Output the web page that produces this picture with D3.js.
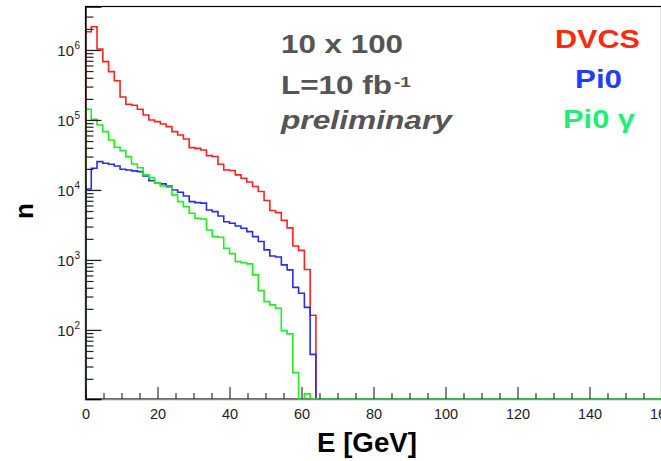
<!DOCTYPE html>
<html>
<head>
<meta charset="utf-8">
<script src="https://cdn.jsdelivr.net/npm/d3@7"></script>
<style>
  html, body { margin: 0; padding: 0; background: #fff; }
  svg { display: block; }
  text { font-family: "Liberation Sans", Arial, Helvetica, sans-serif; }
</style>
</head>
<body>
<svg id="chart" width="661" height="461"></svg>
<script>
// ---- data (100 bins of 1.6 GeV from 0 to 160; only first 40 bins populated) ----
const binWidth = 1.6;
const xRange = [0, 160];
const xTickValues = [0, 20, 40, 60, 80, 100, 120, 140, 160];
const yTickValues = [1e2, 1e3, 1e4, 1e5, 1e6];
const yTickExponents = ["2", "3", "4", "5", "6"];

const dvcs = [1820000, 2150000, 1033000, 681000, 490000, 364000, 213000, 167500, 162000, 142000,
              118000, 100000, 94600, 87700, 80200, 68100, 61100, 53500, 40200, 39200,
              37300, 30900, 30100, 23300, 19300, 19000, 16400, 14700, 13000, 11200,
              9520, 7080, 5090, 4740, 3670, 2870, 1580, 1370, 731, 162];
const pi0 = [10300, 20400, 25400, 24100, 23300, 22000, 19800, 19300, 18700, 18300,
             15800, 13600, 12500, 12200, 11400, 10000, 9270, 8200, 6810, 6590,
             6480, 5180, 4900, 4250, 3520, 3340, 3060, 2840, 2540, 2150,
             1830, 1390, 1140, 1100, 849, 720, 405, 334, 210, 44.7];
const pi0gamma = [142000, 102000, 84900, 68100, 51800, 40700, 36400, 29900, 23500, 20800,
                  16400, 15000, 12500, 11400, 10900, 8490, 6810, 5770, 4640, 3940,
                  3850, 2680, 2150, 2110, 1470, 1230, 946, 915, 877, 611,
                  364, 254, 228, 204, 97.7, 87.7, 24.5, 0, 12.2, 0];

const seriesNames = ["DVCS", "Pi0", "Pi0 γ"];
const seriesColors = ["#ff2020", "#2b2bf0", "#1fee1f"];
const labelColors = ["#ff2a0a", "#1f3cff", "#22ee77"];

// ---- layout ----
const svg = d3.select("#chart");
const pL = 85.5, pR = 661.5, pT = 6.5, pB = 399;

const x = d3.scaleLinear().domain(xRange).range([pL, pR]);
const y = d3.scaleLog().domain([10.3, 4.18e6]).range([pB, pT]);

// frame
svg.append("rect")
  .attr("x", pL).attr("y", pT)
  .attr("width", pR - pL).attr("height", pB - pT)
  .attr("fill", "none").attr("stroke", "#000").attr("stroke-width", 1.2);

// histograms
function histPath(vals) {
  const ymin = y.domain()[0];
  const yy = v => y(Math.max(v, ymin));
  let d = `M${x(0)},${pB}`;
  vals.forEach((v, i) => {
    const x0 = x(i * binWidth), x1 = x((i + 1) * binWidth);
    d += `L${x0},${yy(v)}L${x1},${yy(v)}`;
  });
  d += `L${x(vals.length * binWidth)},${pB}L${x(xRange[1])},${pB}`;
  return d;
}
svg.append("clipPath").attr("id", "plotclip")
  .append("rect").attr("x", pL).attr("y", pT - 1).attr("width", pR - pL).attr("height", pB - pT + 2);

[dvcs, pi0, pi0gamma].forEach((vals, k) => {
  svg.append("path")
    .attr("d", histPath(vals))
    .attr("fill", "none")
    .attr("stroke", seriesColors[k])
    .attr("stroke-width", 1.6)
    .attr("clip-path", "url(#plotclip)");
});

// x axis
const xMinor = d3.range(0, 161, 5).filter(v => v % 20 !== 0);
svg.append("g").attr("transform", `translate(0,${pB})`)
  .call(d3.axisBottom(x).tickValues(xTickValues).tickSize(-12).tickPadding(9.5).tickFormat(d3.format("d")))
  .call(g => g.select(".domain").attr("stroke", "#888").attr("stroke-width", 1.3))
  .call(g => g.selectAll(".tick line").attr("stroke", "#333").attr("stroke-width", 1.2))
  .call(g => g.selectAll("text").attr("font-size", "14.5px").attr("fill", "#222")
        .attr("font-family", "Liberation Sans, Arial, sans-serif"));
svg.append("g").attr("transform", `translate(0,${pB})`)
  .call(d3.axisBottom(x).tickValues(xMinor).tickSize(-6).tickFormat(""))
  .call(g => g.select(".domain").remove())
  .call(g => g.selectAll(".tick line").attr("stroke", "#333").attr("stroke-width", 1.2));

// y axis
const yMinor = [];
[10, 100, 1e3, 1e4, 1e5, 1e6].forEach(dec => {
  for (let m = 2; m <= 9; m++) {
    const v = m * dec;
    if (v >= 20 && v <= 3.5e6) yMinor.push(v);
  }
});
svg.append("g").attr("transform", `translate(${pL},0)`)
  .call(d3.axisLeft(y).tickValues(yTickValues).tickSize(-16).tickFormat(""))
  .call(g => g.select(".domain").attr("stroke", "#000").attr("stroke-width", 1.3))
  .call(g => g.selectAll(".tick line").attr("stroke", "#222").attr("stroke-width", 1.3));
svg.append("g").attr("transform", `translate(${pL},0)`)
  .call(d3.axisLeft(y).tickValues(yMinor).tickSize(-8).tickFormat(""))
  .call(g => g.select(".domain").remove())
  .call(g => g.selectAll(".tick line").attr("stroke", "#222").attr("stroke-width", 1.2));

// y tick labels: 10^n
const yLab = svg.append("g");
yTickValues.forEach((v, i) => {
  yLab.append("text")
    .attr("x", 74).attr("y", y(v) + 6)
    .attr("text-anchor", "end")
    .attr("font-size", "15px").attr("fill", "#222")
    .text("10");
  yLab.append("text")
    .attr("x", 74.5).attr("y", y(v) - 0.5)
    .attr("font-size", "10px").attr("fill", "#222")
    .text(yTickExponents[i]);
});

// axis titles
svg.append("text")
  .attr("x", 367).attr("y", 451.5)
  .attr("text-anchor", "middle")
  .attr("font-size", "27px").attr("font-weight", "bold").attr("fill", "#000")
  .attr("textLength", 100).attr("lengthAdjust", "spacingAndGlyphs")
  .text("E [GeV]");
svg.append("text")
  .attr("transform", "translate(33,211) rotate(-90)")
  .attr("text-anchor", "middle")
  .attr("font-size", "26px").attr("font-weight", "bold").attr("fill", "#000")
  .text("n");

// annotations
const gray = "#555555";
svg.append("text").attr("x", 281).attr("y", 53)
  .attr("font-size", "25px").attr("font-weight", "bold").attr("fill", gray)
  .attr("textLength", 122).attr("lengthAdjust", "spacingAndGlyphs")
  .text("10 x 100");
svg.append("text").attr("x", 281).attr("y", 94)
  .attr("font-size", "25px").attr("font-weight", "bold").attr("fill", gray)
  .attr("textLength", 111).attr("lengthAdjust", "spacingAndGlyphs")
  .text("L=10 fb");
svg.append("text").attr("x", 394).attr("y", 87)
  .attr("font-size", "14px").attr("font-weight", "bold").attr("fill", gray)
  .attr("textLength", 17).attr("lengthAdjust", "spacingAndGlyphs")
  .text("-1");
svg.append("text").attr("x", 281).attr("y", 128.5)
  .attr("font-size", "26px").attr("font-weight", "bold").attr("font-style", "italic").attr("fill", gray)
  .attr("textLength", 171).attr("lengthAdjust", "spacingAndGlyphs")
  .text("preliminary");

// legend labels
const legY = [48, 88, 127.5];
const legX = [597.5, 598.5, 599];
const legW = [85, 47, 72];
seriesNames.forEach((name, i) => {
  svg.append("text")
    .attr("x", legX[i]).attr("y", legY[i])
    .attr("text-anchor", "middle")
    .attr("font-size", "25px").attr("font-weight", "bold")
    .attr("fill", labelColors[i])
    .attr("textLength", legW[i]).attr("lengthAdjust", "spacingAndGlyphs")
    .text(name);
});
</script>
</body>
</html>
